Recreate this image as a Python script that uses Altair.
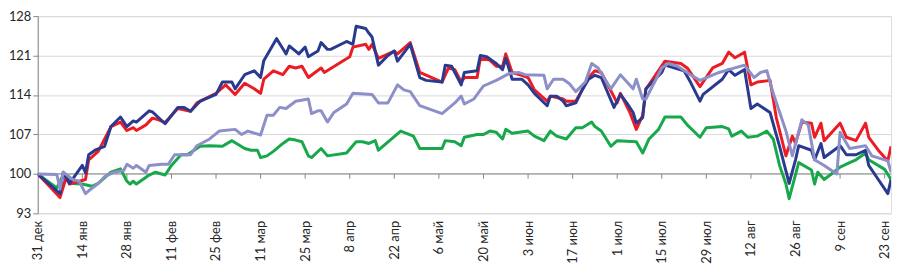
import json
import altair as alt
import pandas as pd

# ---- axis ticks ----
tick_days = [0, 14, 28, 42, 56, 70, 84, 98, 112, 126, 140, 154, 168, 182, 196, 210, 224, 238, 252, 266]
tick_labels = ["31 дек", "14 янв", "28 янв", "11 фев", "25 фев", "11 мар", "25 мар", "8 апр", "22 апр",
               "6 май", "20 май", "3 июн", "17 июн", "1 июл", "15 июл", "29 июл", "12 авг", "26 авг",
               "9 сен", "23 сен"]
y_ticks = [93, 100, 107, 114, 121, 128]

# ---- series (day offset from 31 Dec, index value) ----
navy_days = [0, 7, 8, 10, 14, 15, 16, 18, 21, 23, 26, 28, 30, 31, 35, 36, 40, 44, 46, 48, 51, 56, 58, 61, 62,
             65, 68, 70, 71, 75, 77, 78, 79, 81, 82, 84, 85, 88, 89, 91, 92, 97, 99, 100, 103, 104, 105, 107,
             110, 112, 113, 117, 120, 122, 127, 128, 130, 133, 134, 138, 139, 141, 144, 146, 147, 149, 152,
             154, 156, 160, 161, 163, 165, 166, 169, 171, 173, 175, 177, 181, 183, 185, 187, 188, 190, 191,
             196, 197, 203, 205, 208, 209, 215, 217, 219, 222, 224, 226, 230, 233, 236, 238, 239, 243, 244,
             246, 247, 252, 254, 257, 260, 261, 264, 267, 268]
navy_vals = [100, 96.5, 100.3, 98.3, 101.5, 100.2, 103.4, 104.2, 104.9, 108.4, 110.1, 108.4, 109.4, 109.2,
             111.2, 111.0, 108.9, 111.8, 111.8, 111.1, 112.9, 114.1, 116.3, 116.3, 115.1, 117.6, 118.3, 117.1,
             120.1, 124.0, 122.2, 121.3, 122.7, 121.8, 121.3, 122.5, 120.8, 121.8, 123.3, 122.1, 122.1, 123.5,
             123.0, 126.2, 125.8, 125.0, 124.3, 119.3, 121.0, 121.8, 120.0, 123.0, 117.1, 116.6, 116.3, 119.3,
             119.1, 115.8, 118.0, 118.3, 121.0, 120.8, 119.6, 118.5, 120.5, 116.8, 116.8, 115.8, 114.3, 112.1,
             113.8, 113.8, 112.9, 112.1, 112.6, 114.9, 116.8, 117.5, 117.1, 111.8, 114.1, 112.6, 110.9, 109.0,
             110.0, 115.1, 118.0, 119.3, 118.3, 116.3, 112.9, 114.1, 116.8, 118.5, 117.5, 118.5, 111.6, 112.4,
             110.9, 104.9, 98.3, 102.5, 105.0, 104.2, 102.5, 105.4, 102.9, 105.0, 103.4, 103.4, 104.2, 101.5,
             99.0, 96.5, 99.0]

red_days = [0, 7, 9, 10, 15, 16, 19, 23, 26, 28, 30, 31, 34, 36, 38, 40, 44, 48, 50, 56, 59, 62, 65, 68, 70,
            71, 74, 77, 79, 81, 83, 85, 89, 90, 98, 99, 103, 104, 105, 107, 112, 113, 117, 120, 127, 129, 131,
            133, 134, 138, 139, 142, 144, 146, 147, 149, 152, 154, 156, 160, 161, 165, 166, 169, 171, 173, 175,
            177, 182, 183, 186, 188, 190, 191, 197, 202, 204, 208, 212, 215, 217, 219, 222, 224, 226, 230, 232,
            235, 237, 238, 240, 243, 244, 246, 247, 252, 254, 257, 260, 261, 264, 267, 268]
red_vals = [100, 95.8, 99.5, 98.2, 99.0, 102.5, 104.0, 108.4, 109.2, 107.7, 108.2, 107.7, 108.7, 109.9, 109.6,
            109.1, 111.6, 111.1, 112.6, 114.3, 115.8, 114.1, 116.1, 115.1, 114.3, 116.8, 118.3, 117.6, 119.1,
            118.8, 119.1, 117.1, 118.8, 118.0, 120.8, 122.5, 123.0, 122.1, 123.0, 120.5, 121.8, 121.3, 123.3,
            118.0, 116.3, 118.8, 118.5, 116.3, 117.1, 117.1, 120.5, 120.2, 119.1, 119.1, 121.3, 118.0, 117.5,
            117.1, 114.9, 112.9, 113.8, 113.3, 112.9, 112.9, 114.9, 117.1, 118.3, 118.0, 112.6, 114.3, 110.9,
            107.9, 110.4, 115.0, 120.0, 119.6, 118.8, 115.5, 118.8, 119.6, 121.6, 120.6, 121.6, 115.8, 116.3,
            116.6, 109.9, 103.2, 106.7, 105.4, 109.2, 109.0, 106.5, 109.0, 105.9, 109.0, 106.5, 105.9, 109.0,
            106.5, 104.2, 102.3, 104.9]

lav_days = [0, 6, 7, 8, 11, 13, 15, 16, 19, 21, 24, 27, 28, 30, 31, 34, 35, 39, 41, 43, 45, 48, 50, 54, 57,
            62, 64, 66, 70, 72, 74, 76, 78, 81, 85, 86, 88, 89, 91, 93, 97, 99, 105, 107, 110, 113, 115, 117,
            120, 127, 131, 133, 134, 137, 140, 144, 148, 151, 153, 159, 160, 162, 165, 167, 169, 172, 174, 176,
            180, 183, 187, 188, 190, 191, 196, 198, 201, 205, 208, 214, 217, 222, 225, 227, 229, 231, 235, 237,
            240, 242, 244, 247, 251, 252, 255, 260, 262, 267, 268]
lav_vals = [100, 99.9, 97.3, 100.3, 99.0, 98.7, 96.5, 97.0, 98.3, 99.5, 100.3, 100.6, 101.7, 101.0, 101.5,
            100.3, 101.5, 101.7, 101.7, 103.4, 103.4, 103.4, 105.0, 106.2, 107.6, 107.9, 107.0, 107.6, 106.9,
            110.4, 110.4, 111.8, 111.6, 112.9, 113.3, 110.7, 111.2, 111.2, 109.2, 110.9, 112.4, 114.3, 114.1,
            112.6, 112.6, 115.8, 114.9, 114.6, 112.1, 110.7, 112.6, 113.8, 112.4, 113.3, 115.6, 116.6, 117.8,
            118.0, 117.6, 117.5, 115.1, 116.8, 116.8, 116.0, 114.6, 116.3, 119.6, 118.8, 115.1, 117.6, 115.1,
            116.8, 113.3, 113.3, 118.8, 119.6, 119.1, 117.6, 116.6, 118.0, 118.5, 119.3, 117.1, 118.0, 118.3,
            114.3, 107.6, 103.2, 109.6, 108.7, 102.5, 101.5, 100.0, 107.4, 104.5, 105.0, 103.2, 102.3, 100.3]

green_days = [0, 6, 8, 11, 14, 17, 19, 23, 26, 28, 29, 30, 31, 35, 37, 40, 42, 45, 47, 51, 54, 58, 61, 65, 67,
              69, 70, 72, 74, 77, 79, 81, 83, 85, 86, 89, 91, 97, 100, 102, 104, 106, 107, 114, 118, 120, 127,
              128, 131, 133, 134, 138, 140, 142, 144, 146, 147, 149, 154, 156, 159, 161, 163, 166, 169, 171,
              174, 175, 177, 180, 182, 188, 190, 192, 195, 197, 202, 204, 208, 210, 215, 217, 218, 221, 223,
              226, 229, 231, 233, 235, 236, 239, 243, 244, 245, 247, 250, 252, 255, 257, 260, 261, 266, 268]
green_vals = [100, 97.5, 99.8, 98.3, 98.2, 97.8, 98.3, 100.3, 100.9, 98.7, 98.2, 98.7, 98.2, 99.8, 100.3, 99.8,
              101.5, 103.4, 103.4, 104.9, 105.0, 104.9, 105.9, 104.5, 104.2, 104.2, 102.9, 103.2, 104.0, 105.4,
              106.2, 106.0, 105.7, 103.2, 102.9, 104.5, 103.2, 103.7, 105.7, 105.7, 105.4, 105.9, 104.2, 107.6,
              106.7, 104.5, 104.5, 105.9, 105.7, 105.0, 106.5, 107.0, 107.0, 107.6, 107.4, 106.2, 107.9, 107.2,
              107.6, 106.7, 105.9, 107.6, 106.7, 106.2, 108.2, 108.2, 109.2, 108.4, 107.6, 104.9, 105.9, 105.7,
              103.7, 106.2, 107.9, 110.1, 110.1, 108.7, 106.5, 108.2, 108.4, 108.0, 106.7, 107.6, 106.5, 106.7,
              107.6, 106.2, 101.5, 98.2, 95.6, 102.0, 100.7, 98.2, 100.3, 99.0, 100.3, 101.2, 102.0, 102.5,
              103.7, 102.5, 100.8, 99.0]

series = [
    ("green", green_days, green_vals, "#17a84b"),
    ("red", red_days, red_vals, "#ec1c24"),
    ("navy", navy_days, navy_vals, "#2a3a8f"),
    ("lavender", lav_days, lav_vals, "#8d8fc8"),
]

FONT = "Lato, 'Open Sans', sans-serif"
AXIS_GRAY = "#868686"

x_enc = alt.X(
    "day:Q",
    scale=alt.Scale(domain=[0, 268], nice=False, zero=False),
    axis=alt.Axis(
        values=tick_days, tickCount=40,
        labelExpr=json.dumps(tick_labels, ensure_ascii=False) + "[round(datum.value / 14)]",
        labelAngle=-90, labelFlush=False, labelOverlap=False, labelBound=False,
        domain=False, ticks=False, grid=False, title=None,
        labelFont=FONT, labelFontSize=13, labelColor="#262626", labelPadding=7,
    ),
)
y_scale = alt.Scale(domain=[93, 128], nice=False, zero=False)
y_axis = alt.Axis(
    values=y_ticks, tickCount=12, labelOverlap=False, title=None,
    grid=True, gridColor="#d9d9d9", gridWidth=1,
    domainColor=AXIS_GRAY, tickColor=AXIS_GRAY, tickSize=5,
    labelFont=FONT, labelFontSize=13, labelColor="#262626", labelPadding=2,
)

layers = []
for name, days, vals, color in series:
    df = pd.DataFrame({"day": days, "value": vals})
    layers.append(
        alt.Chart(df).mark_line(color=color, strokeWidth=3, strokeJoin="round", clip=True).encode(
            x=x_enc, y=alt.Y("value:Q", scale=y_scale, axis=y_axis)
        )
    )

# horizontal axis line crossing at 100, with its tick marks
base_line = alt.Chart(pd.DataFrame({"v": [100]})).mark_rule(color=AXIS_GRAY, strokeWidth=1).encode(
    y=alt.Y("v:Q", scale=y_scale, axis=y_axis)
)
tick_df = pd.DataFrame({"day": tick_days[1:]})
tick_marks = alt.Chart(tick_df).mark_rule(color=AXIS_GRAY, strokeWidth=1).encode(
    x=x_enc, y=alt.datum(100), y2=alt.datum(99.15)
)

chart = alt.layer(base_line, tick_marks, *layers).properties(
    width=861, height=199,
    autosize=alt.AutoSizeParams(type="none"),
    padding={"left": 30, "top": 7, "right": 2, "bottom": 58},
).configure_view(stroke=None).configure(background="white")

chart.save("out.html", embed_options={"renderer": "svg", "actions": False})
